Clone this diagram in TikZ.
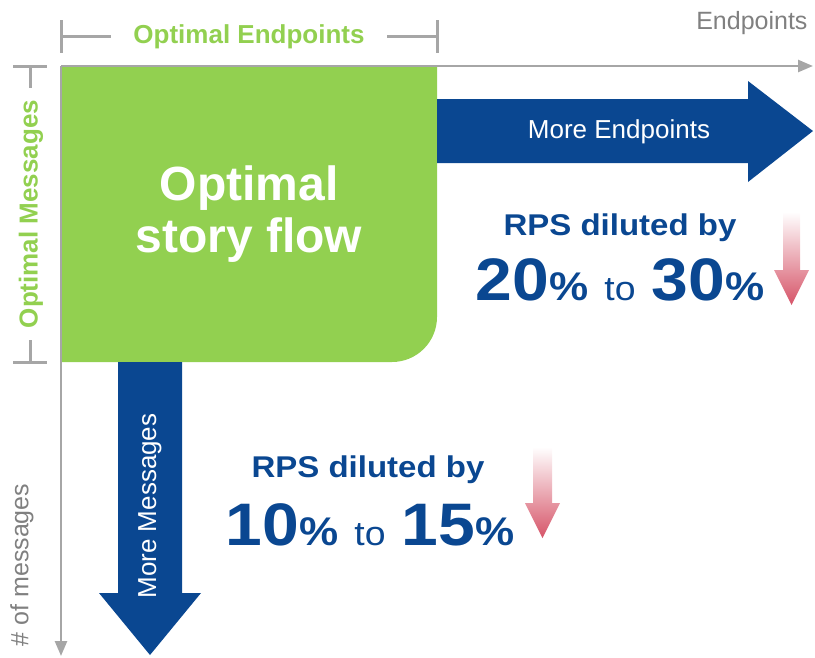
\documentclass[tikz,border=0pt]{standalone}
\usepackage{fontspec}
\setmainfont{Liberation Sans}
\newfontfamily\widesans[FakeStretch=1.1]{Liberation Sans}
\usetikzlibrary{arrows.meta}

\definecolor{optgreen}{HTML}{92D050}
\definecolor{flowblue}{HTML}{0A4791}
\definecolor{axisgray}{HTML}{A6A6A6}
\definecolor{labelgray}{HTML}{808080}
\definecolor{droppink}{HTML}{D65468}

\newcommand\fsize[1]{\fontsize{#1}{#1}\selectfont}
\newcommand\bigpct[1]{{\fsize{60}\bfseries #1}{\fsize{40}\bfseries\%}}
\newcommand\pctrange[2]{\widesans\bigpct{#1}\hspace{16pt}{\fsize{34}to}\hspace{16pt}\bigpct{#2}}

\begin{document}
\begin{tikzpicture}[
        x=1pt, y=-1pt,
        axis/.style={draw=axisgray, line width=2.5pt},
        bracket/.style={draw=axisgray, line width=3pt},
        axislabel/.style={text=labelgray, font=\fsize{25}},
        optlabel/.style={text=optgreen, font=\fsize{26}\bfseries},
        arrowlabel/.style={text=white, font=\fsize{26}},
        rpslabel/.style={text=flowblue, font=\widesans\fsize{30}\bfseries},
        drop/.style={top color=white, bottom color=droppink},
    ]
    \useasboundingbox (0,0) rectangle (815,657);

    % Origin and ends of the axes.
    \coordinate (o) at (61,66);
    \coordinate (xend) at (813,66);
    \coordinate (yend) at (61,656);

    % Optimal region, rounded at the far corner.
    \fill[optgreen] (62,67) -- (437,67)
        [rounded corners=45pt] -- (437,362)
        [sharp corners] -- (62,362) -- cycle;

    % Wide arrows.
    \fill[flowblue] (437,99) -- (748,99) -- (748,81) -- (813,131)
        -- (748,182) -- (748,163) -- (437,163) -- cycle;
    \fill[flowblue] (118,362) -- (182,362) -- (182,593) -- (201,593)
        -- (150,655) -- (99,593) -- (118,593) -- cycle;

    % Axes.
    \draw[axis, -{Triangle[length=15pt,width=12pt]}] (o) -- (xend);
    \draw[axis, -{Triangle[length=15pt,width=12pt]}] (o) -- (yend);

    \node[axislabel, anchor=base east] (endpts) at (811,29) {Endpoints};
    \node[axislabel, rotate=90] (nmsgs) at (22,565) {\# of messages};

    % Bracket over the optimal endpoints.
    \coordinate (bl) at (61,36);
    \coordinate (br) at (437,36);
    \node[optlabel] (optend) at (249,37) {Optimal Endpoints};
    \draw[bracket] (61,20) -- (61,53);
    \draw[bracket] (437,20) -- (437,53);
    \draw[bracket] (bl) -- ++(50,0);
    \draw[bracket] (br) -- ++(-50,0);

    % Bracket beside the optimal messages.
    \coordinate (bt) at (30,66);
    \coordinate (bb) at (30,362);
    \node[optlabel, rotate=90] (optmsg) at (31,214) {Optimal Messages};
    \draw[bracket] (13,66) -- (47,66);
    \draw[bracket] (13,362) -- (47,362);
    \draw[bracket] (bt) -- ++(0,22);
    \draw[bracket] (bb) -- ++(0,-22);

    \node[text=white, font=\fsize{48}\bfseries, align=center,
          execute at begin node=\setlength{\baselineskip}{52pt}]
        (story) at (249,214) {Optimal\\story flow};

    \node[arrowlabel] (moreend) at (619,132) {More Endpoints};
    \node[arrowlabel, rotate=90] (moremsg) at (150,506) {More Messages};

    % Dilution along the endpoints.
    \node[rpslabel, anchor=base] (rps1) at (620,235) {RPS diluted by};
    \node[text=flowblue, anchor=base] (pct1) at (620,300) {\pctrange{20}{30}};
    \shade[drop] (783,212) -- (800,212) -- (800,270) -- (809,270)
        -- (791.5,305) -- (774,270) -- (783,270) -- cycle;

    % Dilution along the messages.
    \node[rpslabel, anchor=base] (rps2) at (368,477) {RPS diluted by};
    \node[text=flowblue, anchor=base] (pct2) at (370,545) {\pctrange{10}{15}};
    \shade[drop] (533,447) -- (552,447) -- (552,503) -- (560,503)
        -- (542.5,538) -- (525,503) -- (533,503) -- cycle;
\end{tikzpicture}
\end{document}
